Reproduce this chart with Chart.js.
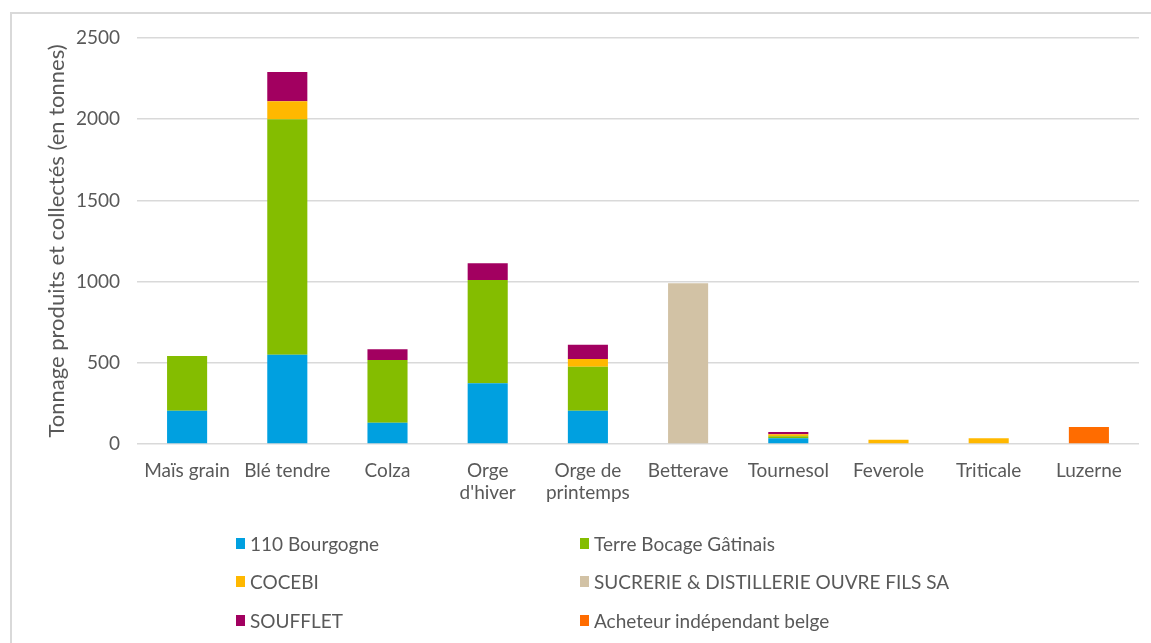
<!DOCTYPE html>
<html>
<head>
<meta charset="utf-8">
<script src="https://cdn.jsdelivr.net/npm/chart.js@4.4.0/dist/chart.umd.min.js"></script>
<style>
  body { margin: 0; background: #fff; font-family: Lato, "Open Sans", sans-serif; }
  #wrap { position: relative; width: 1151px; height: 643px; overflow: hidden; }
  #frame { position: absolute; left: 10px; top: 12px; width: 1200px; height: 700px;
           border-left: 2px solid #d9d9d9; border-top: 2px solid #d9d9d9; }
  #cropChart { position: absolute; left: 0; top: 0; }
  #legend { position: absolute; left: 236px; top: 530px; display: grid;
            grid-template-columns: 344px 420px; grid-auto-rows: 38.5px; }
  .item { display: flex; align-items: center; font-size: 19px; color: #595959; height: 26px; white-space: nowrap; }
  .box { width: 9px; height: 11px; margin-right: 5px; flex: none; }
</style>
</head>
<body>
<div id="wrap">
  <div id="frame"></div>
  <canvas id="cropChart" width="1151" height="643"></canvas>
  <div id="legend"></div>
</div>
<script>
// ─── data ───
const cultures = ['Maïs grain', 'Blé tendre', 'Colza', ['Orge', "d'hiver"], ['Orge de', 'printemps'],
  'Betterave', 'Tournesol', 'Feverole', 'Triticale', 'Luzerne'];

const bourgogne  = [205, 550, 131, 374, 205, 0, 35, 0, 0, 0];
const terreBocage = [337, 1450, 386, 636, 271, 0, 12, 0, 0, 0];
const cocebi     = [0, 110, 0, 0, 47, 0, 13, 26, 35, 0];
const sucrerie   = [0, 0, 0, 0, 0, 990, 0, 0, 0, 0];
const soufflet   = [0, 180, 66, 103, 88, 0, 14, 0, 0, 0];
const acheteur   = [0, 0, 0, 0, 0, 0, 0, 0, 0, 105];

const yTicks = [0, 500, 1000, 1500, 2000, 2500];

const series = [
  { label: '110 Bourgogne', data: bourgogne, color: '#00a0e0' },
  { label: 'Terre Bocage Gâtinais', data: terreBocage, color: '#84bd00' },
  { label: 'COCEBI', data: cocebi, color: '#ffb800' },
  { label: 'SUCRERIE & DISTILLERIE OUVRE FILS SA', data: sucrerie, color: '#d2c2a5' },
  { label: 'SOUFFLET', data: soufflet, color: '#a20060' },
  { label: 'Acheteur indépendant belge', data: acheteur, color: '#ff6c00' }
];

const txt = '#595959';

const chart = new Chart(document.getElementById('cropChart'), {
  type: 'bar',
  data: {
    labels: cultures,
    datasets: series.map(s => ({
      label: s.label,
      data: s.data,
      backgroundColor: s.color,
      borderWidth: 0,
      categoryPercentage: 1,
      barPercentage: 0.4
    }))
  },
  options: {
    responsive: false,
    animation: false,
    layout: { padding: { top: 38, right: 12, bottom: 119, left: 0 } },
    plugins: { legend: { display: false }, tooltip: { enabled: false } },
    scales: {
      x: {
        stacked: true,
        grid: { display: false, drawTicks: false },
        border: { display: false },
        ticks: { color: txt, font: { family: 'Lato', size: 19 }, padding: 15, maxRotation: 0, autoSkip: false },
        afterFit: scale => { scale.height = 80; }
      },
      y: {
        stacked: true,
        min: 0,
        max: 2500,
        afterBuildTicks: scale => { scale.ticks = yTicks.map(v => ({ value: v })); },
        grid: { color: '#d9d9d9', lineWidth: 1.5, drawTicks: false },
        border: { display: false },
        ticks: { color: txt, font: { family: 'Lato', size: 19 }, padding: 17, callback: v => String(v) },
        title: {
          display: true,
          text: 'Tonnage produits et collectés (en tonnes)',
          color: txt,
          font: { family: 'Lato', size: 22 },
          padding: { top: 44, bottom: 0 }
        },
        afterFit: scale => { scale.width = 137; }
      }
    }
  }
});

// legend in two columns, like the original
const legend = document.getElementById('legend');
chart.data.datasets.forEach(ds => {
  legend.insertAdjacentHTML('beforeend',
    `<div class="item"><span class="box" style="background:${ds.backgroundColor}"></span>${ds.label}</div>`);
});
</script>
</body>
</html>
